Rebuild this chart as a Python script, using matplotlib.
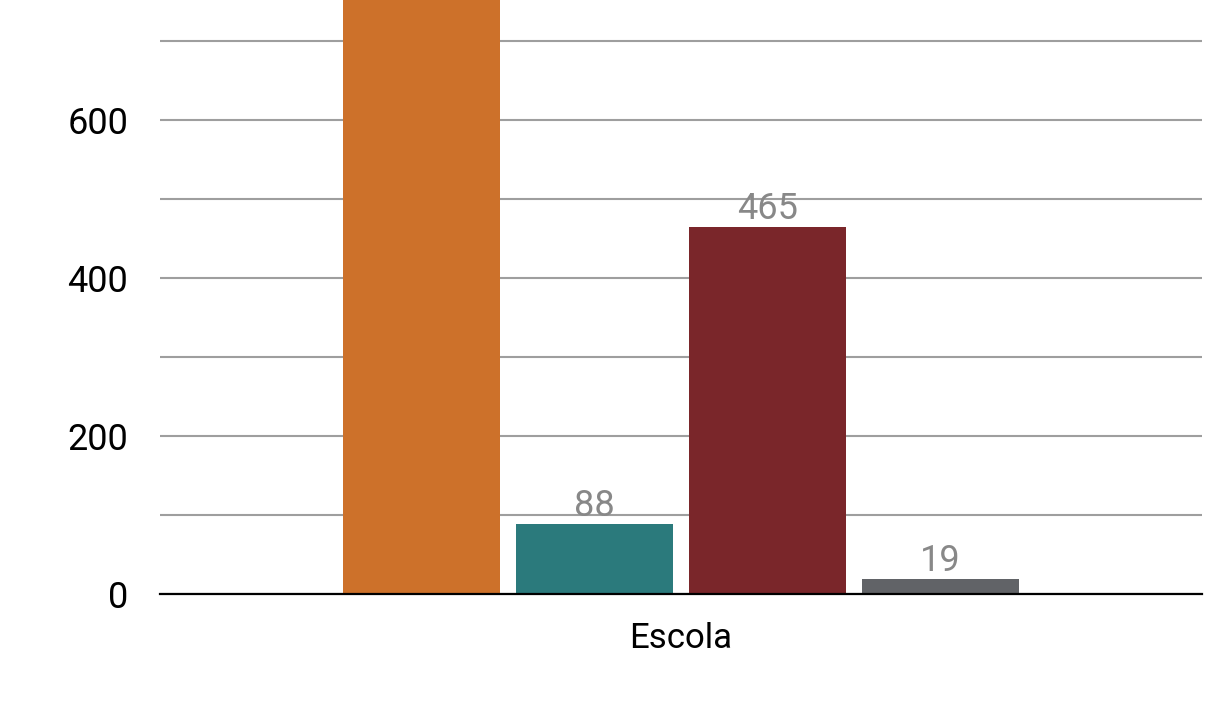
import matplotlib.pyplot as plt
import numpy as np

plt.rcParams['font.family'] = ['Roboto', 'DejaVu Sans']

# Data
category = 'Escola'
series_values = [1000, 88, 465, 19]
colors = ['#CD712A', '#2B7A7C', '#7A262A', '#616367']

fig = plt.figure(figsize=(12.08, 7.14), dpi=100)
ax = fig.add_axes([160 / 1208, 1 - 594 / 714, 1042 / 1208, 594 / 714])

x = np.arange(len(series_values))
bars = ax.bar(x, series_values, width=0.91, color=colors, zorder=3)

# value labels (clipped so the tall bar's label stays off-canvas)
labels = ax.bar_label(bars, labels=[str(v) for v in series_values], padding=0,
                      fontsize=26, color='#888888')
for t in labels:
    t.set_clip_on(True)

ax.set_ylim(0, 752)
ax.set_xlim(-1.515, 4.515)
ax.set_yticks([0, 200, 400, 600])
ax.set_yticks(np.arange(100, 800, 100), minor=True)
ax.set_xticks([1.5])
ax.set_xticklabels([category])

ax.grid(axis='y', which='both', color='#9e9e9e', linewidth=1.5, zorder=0)
ax.tick_params(axis='both', which='both', length=0)
ax.tick_params(axis='y', labelsize=26, pad=23)
ax.tick_params(axis='x', labelsize=25, pad=20)

for s in ['top', 'right', 'left']:
    ax.spines[s].set_visible(False)
ax.spines['bottom'].set_linewidth(1.6)
ax.spines['bottom'].set_zorder(4)

fig.savefig('out.png', dpi=100)
